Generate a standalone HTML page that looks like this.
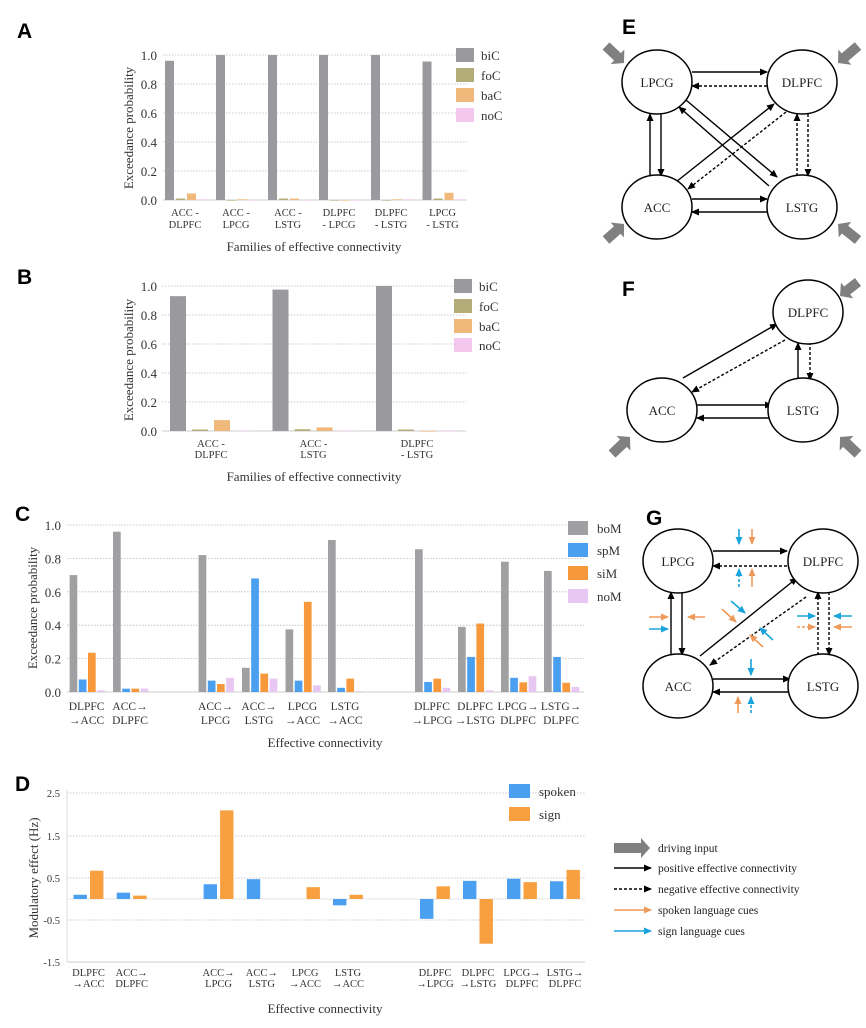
<!DOCTYPE html>
<html><head><meta charset="utf-8"><style>
html,body{margin:0;padding:0;background:#fff;}
svg{display:block;font-family:"Liberation Serif",serif;}
.pl{font-family:"Liberation Sans",sans-serif;font-weight:bold;font-size:21px;}
.t{font-size:13px;fill:#333;}
.s{font-size:10.5px;fill:#333;}
.c{font-size:11.5px;fill:#333;}
.n{font-size:13px;fill:#222;}
</style></head><body>
<svg id="s" width="866" height="1028" viewBox="0 0 866 1028" xmlns="http://www.w3.org/2000/svg">
<defs>
<marker id="ah" markerWidth="8" markerHeight="8" refX="7" refY="4" orient="auto" markerUnits="userSpaceOnUse"><path d="M0,0.5 L8,4 L0,7.5z" fill="#000"/></marker>
<marker id="ao" markerWidth="8" markerHeight="8" refX="7" refY="4" orient="auto" markerUnits="userSpaceOnUse"><path d="M0,0.5 L8,4 L0,7.5z" fill="#ef9a5a"/></marker>
<marker id="ab" markerWidth="8" markerHeight="8" refX="7" refY="4" orient="auto" markerUnits="userSpaceOnUse"><path d="M0,0.5 L8,4 L0,7.5z" fill="#1aa3dc"/></marker>
</defs>
<text class="pl" x="17" y="38">A</text>
<text class="pl" x="17" y="284">B</text>
<text class="pl" x="15" y="521">C</text>
<text class="pl" x="15" y="791">D</text>
<text class="pl" x="622" y="34">E</text>
<text class="pl" x="622" y="296">F</text>
<text class="pl" x="646" y="525">G</text>
<g id="g"></g>
</svg>
<script>
var g=document.getElementById('g'),NS='http://www.w3.org/2000/svg';
function el(t,a,txt){var e=document.createElementNS(NS,t);for(var k in a)e.setAttribute(k,a[k]);if(txt!==undefined)e.textContent=txt;g.appendChild(e);return e;}
function rect(x,y,w,h,c){if(h<0){y+=h;h=-h;}if(h<0.6)h=0.6;el('rect',{x:x,y:y,width:w,height:h,fill:c});}
function grid(x0,x1,ys){ys.forEach(function(y){el('line',{x1:x0,x2:x1,y1:y,y2:y,stroke:'#bbb','stroke-width':0.8,'stroke-dasharray':'1.5,1.5'});});}
function ttl(txt,cx,cy){el('text',{class:'t',x:0,y:0,'text-anchor':'middle',transform:'translate('+cx+','+cy+') rotate(-90)'},txt);}
function legend(x,tx,ys,cols,names,w){ys.forEach(function(y,i){el('rect',{x:x,y:y-7,width:w||18,height:14,fill:cols[i]});el('text',{class:'t',x:tx,y:y+5},names[i]);});}
var cA=['#9a9a9e','#b3ab78','#f1b87c','#f4c8ee'];
(function(){var y0=200,sc=145;grid(163,467,[55,84,113,142,171]);el('line',{x1:163,x2:467,y1:y0,y2:y0,stroke:'#ccc'});
['1.0','0.8','0.6','0.4','0.2','0.0'].forEach(function(t,i){el('text',{class:'t','text-anchor':'end',x:157,y:55+29*i+5},t);});
var d=[[0.96,1,1,1,1,0.955],[0.01,0,0.01,0,0,0.01],[0.045,0.005,0.01,0,0.005,0.05],[0.005,0,0,0,0.005,0.005]];
var gs=[165,216,268,319,371,422.5],l1=['ACC -','ACC -','ACC -','DLPFC','DLPFC','LPCG'],l2=['DLPFC','LPCG','LSTG','- LPCG','- LSTG','- LSTG'];
gs.forEach(function(x,i){for(var s=0;s<4;s++)rect(x+s*11,y0,9,-d[s][i]*sc,cA[s]);
el('text',{class:'s','text-anchor':'middle',x:x+20,y:216},l1[i]);el('text',{class:'s','text-anchor':'middle',x:x+20,y:228},l2[i]);});
el('text',{class:'t','text-anchor':'middle',x:314,y:251},'Families of effective connectivity');ttl('Exceedance probability',133,128);
legend(456,481,[55,75,95,115],cA,['biC','foC','baC','noC']);})();
(function(){var y0=431,sc=145;grid(162,466,[286,315,344,373,402]);el('line',{x1:162,x2:466,y1:y0,y2:y0,stroke:'#ccc'});
['1.0','0.8','0.6','0.4','0.2','0.0'].forEach(function(t,i){el('text',{class:'t','text-anchor':'end',x:157,y:286+29*i+5},t);});
var d=[[0.93,0.975,1.0],[0.01,0.012,0.01],[0.075,0.025,0],[0.004,0.004,0]];
var gs=[170,272.5,376],l1=['ACC -','ACC -','DLPFC'],l2=['DLPFC','LSTG','- LSTG'];
gs.forEach(function(x,i){for(var s=0;s<4;s++)rect(x+s*22,y0,16,-d[s][i]*sc,cA[s]);
el('text',{class:'s','text-anchor':'middle',x:x+41,y:447},l1[i]);el('text',{class:'s','text-anchor':'middle',x:x+41,y:458},l2[i]);});
el('text',{class:'t','text-anchor':'middle',x:314,y:481},'Families of effective connectivity');ttl('Exceedance probability',133,360);
legend(454,479,[286,306,326,345],cA,['biC','foC','baC','noC']);})();
var cC=['#a0a0a2','#4a9ff0','#f7993a','#e8c8f2'];
(function(){var y0=692,sc=167;grid(67,584,[525,558.4,591.8,625.2,658.6]);el('line',{x1:67,x2:584,y1:y0,y2:y0,stroke:'#ccc'});
['1.0','0.8','0.6','0.4','0.2','0.0'].forEach(function(t,i){el('text',{class:'t','text-anchor':'end',x:61,y:525+33.4*i+5},t);});
var d=[[0.70,0.075,0.235,0.01],[0.96,0.02,0.02,0.02],[0.82,0.068,0.048,0.085],[0.145,0.68,0.11,0.08],[0.375,0.068,0.54,0.04],[0.91,0.025,0.08,0.005],[0.855,0.06,0.08,0.025],[0.39,0.21,0.41,0.01],[0.78,0.085,0.058,0.095],[0.725,0.21,0.055,0.03]];
var gs=[69.6,113,198.6,242,285.5,328,415,458,501,544];
var l1=['DLPFC','ACC→','ACC→','ACC→','LPCG','LSTG','DLPFC','DLPFC','LPCG→','LSTG→'],l2=['→ACC','DLPFC','LPCG','LSTG','→ACC','→ACC','→LPCG','→LSTG','DLPFC','DLPFC'];
gs.forEach(function(x,i){for(var s=0;s<4;s++)rect(x+s*9.2,y0,7.7,-d[i][s]*sc,cC[s]);
el('text',{class:'c','text-anchor':'middle',x:x+17,y:710},l1[i]);el('text',{class:'c','text-anchor':'middle',x:x+17,y:724},l2[i]);});
el('text',{class:'t','text-anchor':'middle',x:325,y:747},'Effective connectivity');ttl('Exceedance probability',37,608);
legend(568,597,[528,550,573,596],cC,['boM','spM','siM','noM'],20);})();
(function(){var y0=899,u=42.2;grid(67,585,[793,836,878,920]);el('line',{x1:67,x2:585,y1:y0,y2:y0,stroke:'#e4e4e4'});el('line',{x1:67,x2:585,y1:962,y2:962,stroke:'#ccc'});
el('line',{x1:67,x2:67,y1:790,y2:962,stroke:'#ddd'});
['2.5','1.5','0.5','-0.5','-1.5'].forEach(function(t,i){el('text',{class:'s','text-anchor':'end',x:60,y:[793,836,878,920,962][i]+4},t);});
var sp=[0.1,0.15,0.35,0.47,0,-0.15,-0.47,0.43,0.48,0.42],si=[0.67,0.08,2.1,0,0.28,0.1,0.3,-1.06,0.4,0.69];
var gs=[73.5,116.7,203.6,246.8,290,333,420,463,507,550];
var l1=['DLPFC','ACC→','ACC→','ACC→','LPCG','LSTG','DLPFC','DLPFC','LPCG→','LSTG→'],l2=['→ACC','DLPFC','LPCG','LSTG','→ACC','→ACC','→LPCG','→LSTG','DLPFC','DLPFC'];
gs.forEach(function(x,i){if(sp[i])rect(x,y0,13.4,-sp[i]*u,'#4a9ff0');if(si[i])rect(x+16.5,y0,13.4,-si[i]*u,'#f8a040');
el('text',{class:'s','text-anchor':'middle',x:x+15,y:976},l1[i]);el('text',{class:'s','text-anchor':'middle',x:x+15,y:987},l2[i]);});
el('text',{class:'t','text-anchor':'middle',x:325,y:1013},'Effective connectivity');ttl('Modulatory effect (Hz)',38,878);
legend(509,539,[791,814],['#4a9ff0','#f8a040'],['spoken','sign'],21);})();
function node(cx,cy,t){el('ellipse',{cx:cx,cy:cy,rx:35,ry:32,fill:'#fff',stroke:'#000','stroke-width':1.5});el('text',{class:'n','text-anchor':'middle',x:cx,y:cy+5},t);}
function ar(x1,y1,x2,y2,dash){var a={x1:x1,y1:y1,x2:x2,y2:y2,stroke:'#000','stroke-width':1.4,'marker-end':'url(#ah)'};if(dash)a['stroke-dasharray']='3,2';el('line',a);}
function drv(x1,y1,x2,y2){var dx=x2-x1,dy=y2-y1,L=Math.hypot(dx,dy),ux=dx/L,uy=dy/L,px=-uy,py=ux;
var bx=x2-ux*9,by=y2-uy*9;el('polygon',{points:[x1+px*5,y1+py*5,bx+px*5,by+py*5,bx+px*10,by+py*10,x2,y2,bx-px*10,by-py*10,bx-px*5,by-py*5,x1-px*5,y1-py*5].join(','),fill:'#808080'});}
function sa(x1,y1,x2,y2,c,dash){var a={x1:x1,y1:y1,x2:x2,y2:y2,stroke:c=='o'?'#ef9a5a':'#1aa3dc','stroke-width':1.6,'marker-end':c=='o'?'url(#ao)':'url(#ab)'};if(dash)a['stroke-dasharray']='3,2';el('line',a);}
ar(692,72,767,72);ar(767,86,692,86,1);ar(650,176,650,114);ar(661,114,661,176);ar(797,176,797,114,1);ar(808,114,808,176,1);
ar(692,199,767,199);ar(767,212,692,212);ar(676,182,774,104);ar(786,112,688,189,1);ar(686,100,777,177);ar(769,186,679,107);
node(657,82,'LPCG');node(802,82,'DLPFC');node(657,207,'ACC');node(802,207,'LSTG');
drv(606,46,624,63);drv(858,46,838,63);drv(606,240,624,224);drv(858,240,838,224);
ar(683,378,777,324);ar(785,340,692,392,1);ar(798,378,798,343);ar(810,337,810,380,1);ar(697,405,772,405);ar(772,418,697,418);
node(808,312,'DLPFC');node(662,410,'ACC');node(803,410,'LSTG');
drv(858,282,840,296);drv(612,454,630,437);drv(858,454,840,437);
ar(713,551,787,551);ar(787,566,713,566,1);ar(671,656,671,592);ar(682,592,682,655);ar(818,655,818,592,1);ar(829,592,829,655,1);
ar(713,679,790,679);ar(790,692,713,692);ar(700,656,797,578);ar(806,597,710,665,1);
node(678,561,'LPCG');node(823,561,'DLPFC');node(678,686,'ACC');node(823,686,'LSTG');
sa(739,529,739,544,'b');sa(752,529,752,544,'o');sa(739,587,739,569,'b',1);sa(752,587,752,569,'o');
sa(649,617,668,617,'o');sa(705,617,688,617,'o');sa(649,629,668,629,'b');
sa(722,609,736,622,'o');sa(731,601,745,613,'b');sa(773,640,760,628,'b');sa(763,647,750,635,'o');
sa(797,616,815,616,'b');sa(852,616,834,616,'b');sa(797,627,815,627,'o',1);sa(852,627,834,627,'o');
sa(751,659,751,675,'b');sa(738,713,738,697,'o');sa(751,713,751,697,'b',1);
drv(614,848,650,848);
[[868,0,'k'],[889,1,'k'],[910,0,'o'],[931,0,'b']].forEach(function(r){if(r[2]=='k')ar(614,r[0],651,r[0],r[1]);else sa(614,r[0],651,r[0],r[2]);});
['driving input','positive effective connectivity','negative effective connectivity','spoken language cues','sign language cues'].forEach(function(t,i){el('text',{class:'s',x:658,y:[852,872,893,914,935][i],style:'font-size:11.5px;fill:#222'},t);});
</script>
</body></html>
